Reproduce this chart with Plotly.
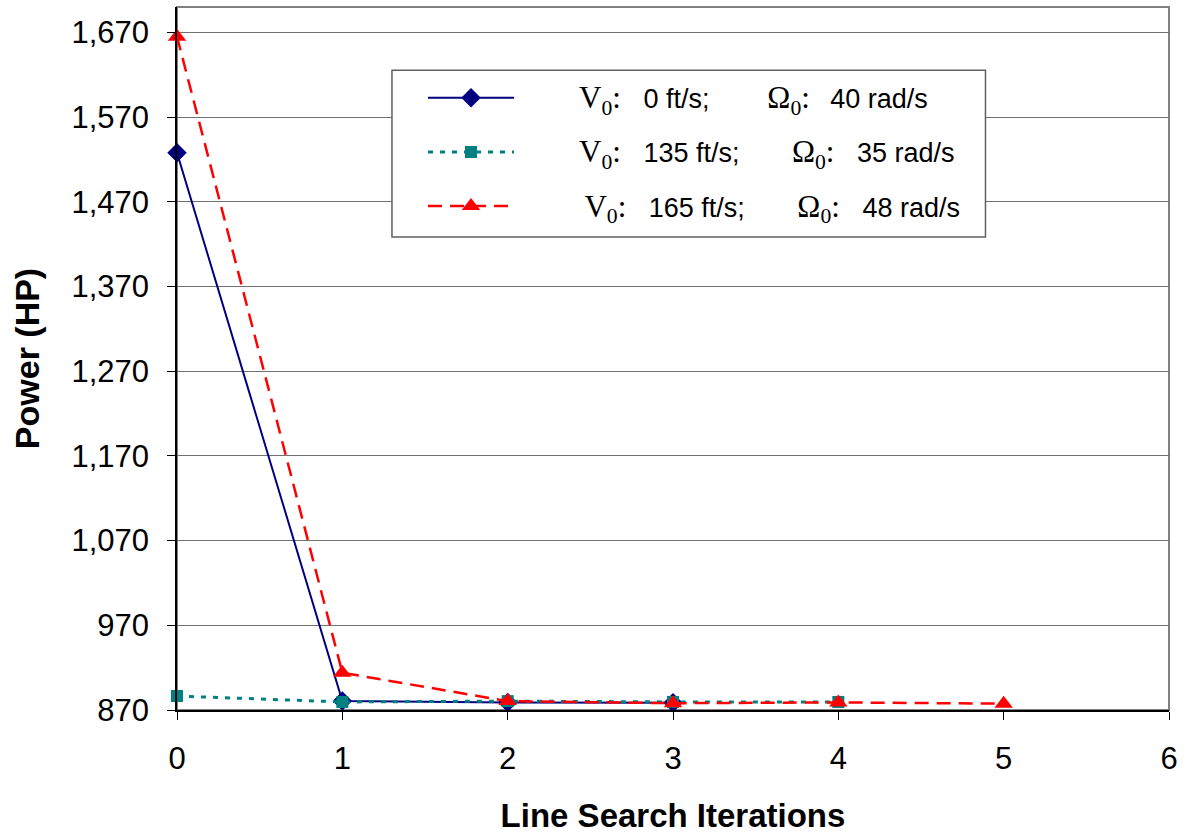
import plotly.graph_objects as go

iterations = [0, 1, 2, 3, 4, 5]

blue_x = [0, 1, 2, 3]
blue_y = [1528, 880.5, 879, 878.5]

teal_x = [0, 1, 2, 3, 4]
teal_y = [886.5, 879.5, 880.5, 879.5, 879.5]

red_x = [0, 1, 2, 3, 4, 5]
red_y = [1665, 914, 880.5, 878, 879, 877.5]

y_ticks = [870, 970, 1070, 1170, 1270, 1370, 1470, 1570, 1670]
x_ticks = [0, 1, 2, 3, 4, 5, 6]

speeds = ["0 ft/s;", "135 ft/s;", "165 ft/s;"]
rates = ["40 rad/s", "35 rad/s", "48 rad/s"]

NB = "\u00a0"
TH = "\u2009"
SERIF = "Liberation Serif"


def lab(v, om, lead, gap1, gap2, gap3):
    sym_v = f'<span style="font-family:{SERIF};font-size:31px">V<sub>0</sub>:</span>'
    sym_o = f'<span style="font-family:{SERIF};font-size:31px">Ω<sub>0</sub>:</span>'
    return (lead + sym_v + gap1 + v + gap2 + sym_o + gap3 + om)


names = [
    lab(speeds[0], rates[0], NB * 8, NB * 3, NB * 7 + TH, NB * 2 + TH),
    lab(speeds[1], rates[1], NB * 8, NB * 3, NB * 7, NB * 3),
    lab(speeds[2], rates[2], NB * 8 + TH, NB * 3, NB * 7, NB * 3),
]

fig = go.Figure()
fig.add_trace(go.Scatter(
    x=blue_x, y=blue_y, mode="lines+markers", name=names[0], legendgroup="a",
    line=dict(color="#000080", width=2),
    marker=dict(symbol="diamond", size=15, color="#000080"),
    cliponaxis=False))
fig.add_trace(go.Scatter(
    x=teal_x, y=teal_y, mode="lines+markers", name=names[1], legendgroup="b",
    line=dict(color="#008080", width=3, dash="5px,7px"),
    marker=dict(symbol="square", size=12, color="#008080"),
    cliponaxis=False))
fig.add_trace(go.Scatter(
    x=red_x, y=red_y, mode="lines+markers", name=names[2], legendgroup="c",
    line=dict(color="#FF0000", width=2.5, dash="14px,8px"),
    marker=dict(symbol="triangle-up", size=16, color="#FF0000"),
    cliponaxis=False))

# plot-area frame and legend box
fig.add_shape(type="rect", xref="paper", yref="paper", x0=0, x1=1, y0=0, y1=1,
              line=dict(color="#808080", width=2), layer="below")
fig.add_shape(type="rect", xref="paper", yref="paper", x0=0.2167, x1=0.815,
              y0=0.673, y1=0.910, line=dict(color="#606060", width=1.5),
              fillcolor="white", layer="above")

fig.update_layout(
    width=1187, height=834,
    margin=dict(l=177, r=18, t=7, b=124),
    paper_bgcolor="white", plot_bgcolor="white",
    font=dict(family="Liberation Sans", size=31, color="black"),
    showlegend=True,
    legend=dict(
        x=(423 - 177) / 992, y=0.905, xanchor="left", yanchor="top",
        bgcolor="rgba(0,0,0,0)", borderwidth=0,
        font=dict(family="Liberation Sans", size=27, color="black"),
        tracegroupgap=16, itemwidth=86,
    ),
    xaxis=dict(
        range=[0, 6], tickvals=x_ticks, ticks="outside", ticklen=8,
        tickcolor="black", showline=True, linecolor="black", linewidth=1.5,
        showgrid=False, zeroline=False, ticklabelstandoff=12,
        tickfont=dict(size=31),
        title=dict(text="<b>Line Search Iterations</b>", font=dict(size=33), standoff=29),
    ),
    yaxis=dict(
        range=[870, 1700], tickvals=y_ticks, tickformat=",d", ticks="outside",
        ticklen=8, tickcolor="black", showline=True, linecolor="black",
        linewidth=1.5, showgrid=True, gridcolor="#707070", gridwidth=1.2,
        zeroline=False, tickfont=dict(size=31), ticklabelstandoff=12,
        title=dict(text="<b>Power (HP)</b>", font=dict(size=34), standoff=22),
    ),
)

fig.write_html("out.html")
